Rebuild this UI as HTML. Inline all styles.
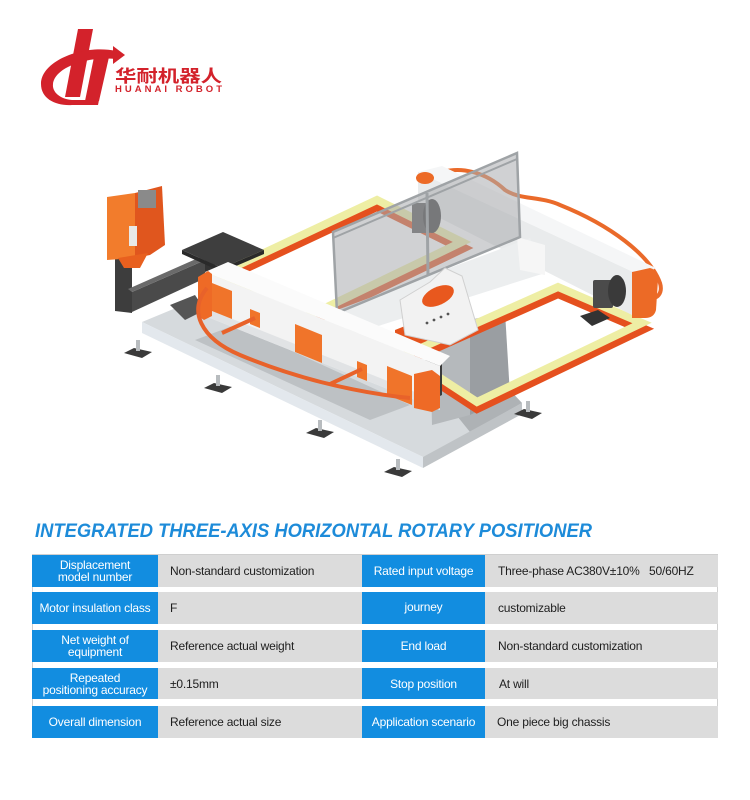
<!DOCTYPE html>
<html><head><meta charset="utf-8"><style>
*{margin:0;padding:0;box-sizing:border-box}
html,body{width:750px;height:800px;background:#fff;overflow:hidden}
#wrap{position:relative;width:750px;height:800px}
.c{position:absolute;display:flex;align-items:center;font-family:"Liberation Sans","Noto Sans CJK SC",sans-serif;font-size:12px;line-height:12px}
.b{background:#128de0;color:#fff;justify-content:center;text-align:center;letter-spacing:-0.2px}
.g{background:#dcdcdc;color:#1e1e1e;padding-left:12px;letter-spacing:-0.2px}
.ln{position:absolute;background:#cfcfcf}
</style></head><body><div id="wrap">
<svg width="750" height="560" style="position:absolute;left:0;top:0" xmlns="http://www.w3.org/2000/svg">
<!-- LOGO -->
<g fill="#d3222b">
<polygon points="78,29 93,29 80,97 65,97"/>
<polygon points="94,57 109,57 99,101 85,101"/>
<path d="M116,51 C85,44 41,60 41,84 C41,99 56,106 72,105 L98,105 L99,100 L72,100 C60,99 52,92 53,84 C55,67 88,56 116,59 Z"/>
<polygon points="113,46 125,55 113,64"/>
</g>
<text x="115" y="82" font-family="'Noto Sans CJK SC',sans-serif" font-weight="bold" font-size="17" fill="#d3222b" textLength="107" lengthAdjust="spacingAndGlyphs">华耐机器人</text>
<text x="115" y="92" font-family="'Liberation Sans',sans-serif" font-weight="bold" font-size="9.5" fill="#d3222b" textLength="107" lengthAdjust="spacing">HUANAI ROBOT</text>

<!-- MACHINE -->
<path d="M428,178 C460,160 490,176 505,190 C520,200 540,196 560,205 C610,225 650,255 660,283 C663,293 657,300 650,297" fill="none" stroke="#ea6a2a" stroke-width="4"/>
<!-- left back frame -->
<polygon points="215,282 377,206 462,248 300,326" fill="none" stroke="#e5501e" stroke-width="10"/>
<polygon points="215,276 377,200 462,242 300,320" fill="none" stroke="#eeeea4" stroke-width="8"/>
<!-- left arm -->
<polygon points="115,258 132,260 132,313 115,311" fill="#3d3d3d"/>
<polygon points="132,292 210,258 210,276 132,312" fill="#4a4a4a"/>
<polygon points="128,289 205,255 210,258 132,292" fill="#6a6a6a"/>
<rect x="205" y="250" width="10" height="22" fill="#333"/>
<polygon points="182,250 222,268 264,250 264,254 222,272 182,254" fill="#2a2a2a"/>
<polygon points="182,250 223,232 264,250 222,268" fill="#3e3e3e"/>
<polygon points="107,197 135,193 135,258 107,260" fill="#f27c2c"/>
<polygon points="135,193 162,186 165,245 150,255 135,258" fill="#e0561e"/>
<polygon points="118,258 148,253 140,268 124,268" fill="#e8601f"/>
<rect x="138" y="190" width="18" height="18" fill="#8a8a8a"/>
<rect x="129" y="226" width="8" height="20" fill="#e8e8e8"/>
<!-- base -->
<polygon points="142,322 200,298 440,380 500,380 522,403 440,452 423,457" fill="#d6dadd"/>
<polygon points="195,340 235,325 410,405 370,420" fill="#bdc1c4"/>
<polygon points="440,395 505,385 522,403 470,432" fill="#aeb2b5"/>
<polygon points="142,322 423,457 423,468 142,333" fill="#e3e8ed"/>
<polygon points="423,457 522,403 522,414 423,468" fill="#bfc3c6"/>
<polygon points="170,305 195,295 205,310 185,320" fill="#555"/>
<g fill="#3a3a3a">
<polygon points="124,353 134,348 152,352 142,358"/><polygon points="204,388 214,383 232,387 222,393"/>
<polygon points="306,433 316,428 334,432 324,438"/><polygon points="384,472 394,467 412,471 402,477"/>
<polygon points="514,414 524,409 542,413 532,419"/>
</g>
<g fill="#b8bcbf">
<rect x="136" y="340" width="4" height="11"/><rect x="216" y="375" width="4" height="11"/>
<rect x="318" y="420" width="4" height="11"/><rect x="396" y="459" width="4" height="11"/>
<rect x="526" y="401" width="4" height="11"/>
</g>
<!-- column -->
<polygon points="430,330 470,320 470,415 432,425" fill="#b5b9bc"/>
<polygon points="470,320 505,312 510,395 470,415" fill="#9a9ea2"/>
<polygon points="395,330 425,318 445,328 445,345 415,355 395,345" fill="#e5541d"/>
<!-- right frame -->
<polygon points="405,361 558,293 642,329 477,408" fill="none" stroke="#e5501e" stroke-width="10"/>
<polygon points="405,355 558,287 642,323 477,402" fill="none" stroke="#eeeea4" stroke-width="8"/>
<polygon points="580,316 598,310 610,318 592,326" fill="#333"/>
<!-- upper right beam -->
<polygon points="418,172 642,276 634,316 418,207" fill="#e9ebec"/>
<polygon points="418,172 442,166 656,268 642,276" fill="#f5f6f7"/>
<path d="M632,272 L650,268 Q658,270 658,280 L656,310 Q654,318 645,318 L632,318 Z" fill="#ec6a26"/>
<rect x="593" y="280" width="20" height="28" rx="2" fill="#4b4b4b"/>
<ellipse cx="617" cy="291" rx="9" ry="16" fill="#3a3a3a"/>
<ellipse cx="425" cy="178" rx="9" ry="6" fill="#ec6a26"/>
<rect x="412" y="203" width="18" height="30" fill="#555"/>
<ellipse cx="432" cy="216" rx="9" ry="17" fill="#3a3a3a"/>
<!-- cross beam -->
<polygon points="337,310 530,238 545,273 350,335" fill="#eceeef"/>
<polygon points="517,237 545,245 545,275 520,270" fill="#f6f6f6"/>
<!-- glass -->
<polygon points="333,232 517,153 520,237 337,313" fill="#a9acaf" fill-opacity="0.55" stroke="#9fa3a6" stroke-width="2.5"/>
<line x1="333" y1="238" x2="517" y2="159" stroke="#9fa3a6" stroke-width="2"/>
<line x1="427" y1="193" x2="428" y2="276" stroke="#9fa3a6" stroke-width="3"/>
<!-- bracket -->
<polygon points="400,300 430,282 445,268 462,276 478,330 450,345 405,335" fill="#f2f2f2" stroke="#d0d0d0"/>
<ellipse cx="438" cy="296" rx="17" ry="9" transform="rotate(-25 438 296)" fill="#e8581e"/>
<g fill="#555"><circle cx="427" cy="323" r="1.4"/><circle cx="434" cy="320" r="1.4"/><circle cx="441" cy="317" r="1.4"/><circle cx="448" cy="314" r="1.4"/></g>
<polygon points="422,362 432,357 442,362 442,395 432,400 422,395" fill="#3a3a3a"/>
<!-- main beam -->
<polygon points="205,272 228,262 450,356 440,366" fill="#fbfbfb"/>
<polygon points="205,272 440,366 440,410 205,316" fill="#f3f3f3"/>
<polygon points="205,308 440,402 440,410 205,316" fill="#e1e3e5"/>
<polygon points="198,277 208,271 212,274 212,316 204,320 198,316" fill="#ee6a26"/>
<g fill="#f0742a">
<polygon points="212,283 232,291 232,319 212,311"/>
<polygon points="250,309 260,313 260,328 250,324"/>
<polygon points="295,324 322,335 322,363 295,352"/>
<polygon points="357,361 367,365 367,381 357,377"/>
<polygon points="387,366 412,376 412,405 387,395"/>
</g>
<polygon points="414,374 432,370 440,376 440,408 432,412 414,408" fill="#ee6a26"/>
<path d="M207,288 C188,310 200,338 240,355 C290,376 350,392 410,398" stroke="#e8622a" stroke-width="4" fill="none"/>
<line x1="255" y1="318" x2="222" y2="333" stroke="#e8622a" stroke-width="4"/>
<line x1="362" y1="369" x2="330" y2="384" stroke="#e8622a" stroke-width="4"/>
<!-- title -->
<text x="35" y="537" font-family="'Liberation Sans',sans-serif" font-weight="bold" font-style="italic" font-size="19.5" fill="#1d8bd9" textLength="557" lengthAdjust="spacingAndGlyphs">INTEGRATED THREE-AXIS HORIZONTAL ROTARY POSITIONER</text>
</svg>

<div class="ln" style="left:32px;top:554px;width:686px;height:1px"></div>
<div class="ln" style="left:32px;top:554px;width:1px;height:184px"></div>
<div class="ln" style="left:717px;top:554px;width:1px;height:184px"></div>

<div class="c b" style="left:32px;top:555px;width:126px;height:32px">Displacement<br>model number</div>
<div class="c g" style="left:158px;top:555px;width:204px;height:32px">Non-standard customization</div>
<div class="c b" style="left:362px;top:555px;width:123px;height:32px">Rated input voltage</div>
<div class="c g" style="left:485px;top:555px;width:233px;height:32px;padding-left:13px">Three-phase AC380V±10%&nbsp;&nbsp;&nbsp;50/60HZ</div>

<div class="c b" style="left:32px;top:592px;width:126px;height:32px">Motor insulation class</div>
<div class="c g" style="left:158px;top:592px;width:204px;height:32px">F</div>
<div class="c b" style="left:362px;top:592px;width:123px;height:32px;padding-bottom:3px">journey</div>
<div class="c g" style="left:485px;top:592px;width:233px;height:32px;padding-left:13px">customizable</div>

<div class="c b" style="left:32px;top:630px;width:126px;height:32px">Net weight of<br>equipment</div>
<div class="c g" style="left:158px;top:630px;width:204px;height:32px">Reference actual weight</div>
<div class="c b" style="left:362px;top:630px;width:123px;height:32px">End load</div>
<div class="c g" style="left:485px;top:630px;width:233px;height:32px;padding-left:13px">Non-standard customization</div>

<div class="c b" style="left:32px;top:668px;width:126px;height:31px">Repeated<br>positioning accuracy</div>
<div class="c g" style="left:158px;top:668px;width:204px;height:31px">±0.15mm</div>
<div class="c b" style="left:362px;top:668px;width:123px;height:31px">Stop position</div>
<div class="c g" style="left:485px;top:668px;width:233px;height:31px;padding-left:14px">At will</div>

<div class="c b" style="left:32px;top:706px;width:126px;height:32px">Overall dimension</div>
<div class="c g" style="left:158px;top:706px;width:204px;height:32px">Reference actual size</div>
<div class="c b" style="left:362px;top:706px;width:123px;height:32px">Application scenario</div>
<div class="c g" style="left:485px;top:706px;width:233px;height:32px;padding-left:12px">One piece big chassis</div>
</div></body></html>
